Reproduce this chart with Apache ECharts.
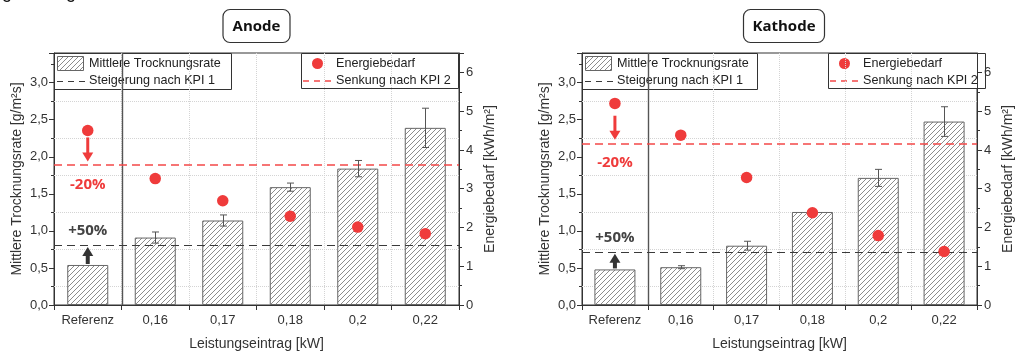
<!DOCTYPE html>
<html lang="de">
<head>
<meta charset="utf-8">
<title>Trocknungsrate und Energiebedarf – Anode / Kathode</title>
<script src="https://cdn.jsdelivr.net/npm/echarts@6/dist/echarts.min.js"></script>
<style>
  html, body { margin: 0; padding: 0; background: #fff; }
  #chart { width: 1016px; height: 356px; }
</style>
</head>
<body>
<div id="chart"></div>
<script>
// Kategorien der x-Achse (Leistungseintrag in kW)
const categories = ['Referenz', '0,16', '0,17', '0,18', '0,2', '0,22'];

// Anode: mittlere Trocknungsrate [g/m²s], Standardabweichung, Energiebedarf [kWh/m²]
const anodeRate = [0.54, 0.91, 1.14, 1.59, 1.84, 2.39];
const anodeRateErr = [0, 0.075, 0.075, 0.055, 0.11, 0.265];
const anodeEnergy = [4.5, 3.26, 2.69, 2.29, 2.01, 1.84];

// Kathode: mittlere Trocknungsrate [g/m²s], Standardabweichung, Energiebedarf [kWh/m²]
const kathodeRate = [0.48, 0.51, 0.80, 1.255, 1.715, 2.475];
const kathodeRateErr = [0, 0.02, 0.06, 0, 0.115, 0.2];
const kathodeEnergy = [5.2, 4.38, 3.29, 2.38, 1.79, 1.38];

// Zielwerte: +50 % Trocknungsrate (KPI 1), -20 % Energiebedarf (KPI 2)
const kpi1Factor = 1.5;
const kpi2Factor = 0.8;
const kpi1Label = '+50%';
const kpi2Label = '-20%';

// Achsenbereiche und Teilstriche
const rateAxis = { min: 0, max: 3.4, interval: 0.5 };
const energyAxis = { min: 0, max: 6.5, interval: 1 };
// Hilfsgitterlinien (gepunktet) auf der Trocknungsraten-Achse
const gridLevels = [0.25, 0.75, 1.25, 1.75, 2.25, 2.75];

const panelTitles = ['Anode', 'Kathode'];
const legendLabels = {
  rate: 'Mittlere Trocknungsrate',
  kpi1: 'Steigerung nach KPI 1',
  energy: 'Energiebedarf',
  kpi2: 'Senkung nach KPI 2'
};
const axisNames = {
  x: 'Leistungseintrag [kW]',
  rate: 'Mittlere Trocknungsrate [g/m²s]',
  energy: 'Energiebedarf [kWh/m²]'
};
// Angeschnittene Überschrift am oberen Bildrand
const headerText = 'Leistungseintrag';

const panels = [
  { rate: anodeRate, err: anodeRateErr, energy: anodeEnergy },
  { rate: kathodeRate, err: kathodeRateErr, energy: kathodeEnergy }
];

// Plotbereiche (Pixel)
const layout = [
  { left: 54, right: 459 },
  { left: 582, right: 986 }
];
const plotTop = 53, plotBottom = 309, W = 1016, H = 356;

const FONT = '"Liberation Sans", Arial, sans-serif';
const BOLD = '"Open Sans", "Liberation Sans", sans-serif';
const INK = '#333';
const RED = '#ef3b3b';
const RED_DASH = '#f44848';
const DARK_DASH = '#3a3a3a';
const LEGEND_FONT = '12.6px ' + FONT;

// Schraffur für die Balken
function hatchCanvas() {
  const s = 5;
  const c = document.createElement('canvas');
  c.width = s; c.height = s;
  const g = c.getContext('2d');
  g.fillStyle = '#fff';
  g.fillRect(0, 0, s, s);
  g.strokeStyle = '#8c8c8c';
  g.lineWidth = 1;
  g.beginPath();
  g.moveTo(0, s); g.lineTo(s, 0);
  g.moveTo(-1, 1); g.lineTo(1, -1);
  g.moveTo(s - 1, s + 1); g.lineTo(s + 1, s - 1);
  g.stroke();
  return c;
}
const hatch = { image: hatchCanvas(), repeat: 'repeat' };

const comma = (v, d) => v.toFixed(d).replace('.', ',');

const grids = [], xAxes = [], yAxes = [], series = [], graphics = [];

// Horizontale gestrichelte Linie über die ganze Plotbreite
function hLineSeries(xi, yi, value, color, width, shift) {
  return {
    type: 'custom', xAxisIndex: xi, yAxisIndex: yi, z: 4, silent: true,
    data: [[0, value]],
    renderItem: (params, api) => {
      const cs = params.coordSys;
      const y = Math.round(api.coord([0, api.value(1)])[1]) + shift;
      return { type: 'line', shape: { x1: cs.x, y1: y, x2: cs.x + cs.width, y2: y },
               style: { stroke: color, lineWidth: width, lineDash: [8, 5] } };
    }
  };
}

panels.forEach((p, i) => {
  const L = layout[i];
  grids.push({
    left: L.left, right: W - L.right, top: plotTop, bottom: H - plotBottom,
    show: true, borderColor: INK, borderWidth: 1, backgroundColor: 'transparent'
  });

  xAxes.push({
    type: 'category', gridIndex: i, data: categories,
    name: axisNames.x, nameLocation: 'middle', nameGap: 32,
    nameTextStyle: { fontFamily: FONT, fontSize: 14, color: INK },
    axisLine: { lineStyle: { color: INK, width: 1 } },
    axisTick: { show: true, length: 5, interval: 0, lineStyle: { color: INK } },
    axisLabel: { fontFamily: FONT, fontSize: 13, color: INK, margin: 9, interval: 0 },
    splitLine: { show: true, interval: 0, lineStyle: { color: '#d4d4d4', type: 'dotted', width: 1 } }
  });

  const yl = 2 * i, yr = 2 * i + 1;
  yAxes.push({
    type: 'value', gridIndex: i, position: 'left',
    min: rateAxis.min, max: rateAxis.max, interval: rateAxis.interval,
    name: axisNames.rate, nameLocation: 'middle', nameGap: 30,
    nameTextStyle: { fontFamily: FONT, fontSize: 14, color: INK },
    axisLine: { show: true, lineStyle: { color: INK } },
    axisTick: { show: true, length: 5, lineStyle: { color: INK } },
    minorTick: { show: true, splitNumber: 2, length: 3, lineStyle: { color: INK } },
    axisLabel: { fontFamily: FONT, fontSize: 13, color: INK, margin: 6,
                 showMaxLabel: false, formatter: v => comma(v, 1) },
    splitLine: { show: false }
  });
  yAxes.push({
    type: 'value', gridIndex: i, position: 'right',
    min: energyAxis.min, max: energyAxis.max, interval: energyAxis.interval,
    name: axisNames.energy, nameLocation: 'middle', nameGap: 24,
    nameTextStyle: { fontFamily: FONT, fontSize: 14, color: INK },
    axisLine: { show: true, lineStyle: { color: INK } },
    axisTick: { show: true, length: 5, lineStyle: { color: INK } },
    minorTick: { show: true, splitNumber: 2, length: 3, lineStyle: { color: INK } },
    axisLabel: { fontFamily: FONT, fontSize: 13, color: INK, margin: 7,
                 showMaxLabel: false, formatter: v => String(v) },
    splitLine: { show: false }
  });

  const kpi1 = p.rate[0] * kpi1Factor;
  const kpi2 = p.energy[0] * kpi2Factor;

  // Gepunktete Hilfslinien hinter den Balken
  series.push({
    type: 'line', xAxisIndex: i, yAxisIndex: yl, data: [], silent: true, z: 1,
    markLine: {
      silent: true, symbol: 'none', z: 1, label: { show: false },
      lineStyle: { color: '#d4d4d4', type: 'dotted', width: 1 },
      data: gridLevels.map(v => ({ yAxis: v }))
    }
  });

  // Trennlinie zwischen Referenz und Versuchspunkten
  series.push({
    type: 'custom', xAxisIndex: i, yAxisIndex: yl, data: [[0, 0]], z: 3, silent: true,
    renderItem: (params, api) => {
      const cs = params.coordSys;
      const x = Math.round((api.coord([0, 0])[0] + api.coord([1, 0])[0]) / 2) + 0.5;
      return { type: 'line', shape: { x1: x, y1: cs.y, x2: x, y2: cs.y + cs.height },
               style: { stroke: '#555', lineWidth: 1.4 } };
    }
  });

  // Balken: mittlere Trocknungsrate
  series.push({
    name: legendLabels.rate, type: 'bar', xAxisIndex: i, yAxisIndex: yl,
    data: p.rate, barWidth: 41, z: 2,
    itemStyle: { color: hatch, borderColor: '#666', borderWidth: 1 }
  });

  // Ziellinien KPI 1 (schwarz) und KPI 2 (rot)
  series.push(hLineSeries(i, yl, kpi1, DARK_DASH, 1, 0.5));
  series.push(hLineSeries(i, yr, kpi2, RED_DASH, 1.5, 0));

  // Fehlerbalken
  series.push({
    type: 'custom', xAxisIndex: i, yAxisIndex: yl, z: 5, silent: true,
    data: p.rate.map((v, k) => [k, v - p.err[k], v + p.err[k]]),
    renderItem: (params, api) => {
      const lo = api.value(1), hi = api.value(2);
      if (hi - lo <= 0) return null;
      const a = api.coord([api.value(0), lo]);
      const b = api.coord([api.value(0), hi]);
      const x = Math.round(a[0]) + 0.5, cap = 3.5;
      const st = { stroke: '#555', lineWidth: 1 };
      return { type: 'group', children: [
        { type: 'line', shape: { x1: x, y1: a[1], x2: x, y2: b[1] }, style: st },
        { type: 'line', shape: { x1: x - cap, y1: a[1], x2: x + cap, y2: a[1] }, style: st },
        { type: 'line', shape: { x1: x - cap, y1: b[1], x2: x + cap, y2: b[1] }, style: st }
      ] };
    }
  });

  // Energiebedarf (Punkte)
  series.push({
    name: legendLabels.energy, type: 'scatter', xAxisIndex: i, yAxisIndex: yr,
    data: p.energy, symbolSize: 11.5, z: 6,
    itemStyle: { color: RED, opacity: 1 }
  });

  // Pfeil und Beschriftung -20 % (Energiebedarf)
  series.push({
    type: 'custom', xAxisIndex: i, yAxisIndex: yr, z: 7, silent: true,
    data: [[0, kpi2]],
    renderItem: (params, api) => {
      const pt = api.coord([0, api.value(1)]);
      const x = pt[0], tip = pt[1] - 4, tail = pt[1] - 28;
      return { type: 'group', children: [
        { type: 'rect', shape: { x: x - 1.5, y: tail, width: 3, height: tip - tail - 8 },
          style: { fill: RED } },
        { type: 'polygon', shape: { points: [[x - 5.5, tip - 9], [x + 5.5, tip - 9], [x, tip]] },
          style: { fill: RED } },
        { type: 'text', style: { text: kpi2Label, x: x, y: pt[1] + 19,
          align: 'center', verticalAlign: 'middle', fill: RED, font: 'bold 15px ' + BOLD } }
      ] };
    }
  });

  // Pfeil und Beschriftung +50 % (Trocknungsrate)
  series.push({
    type: 'custom', xAxisIndex: i, yAxisIndex: yl, z: 7, silent: true,
    data: [[0, p.rate[0], kpi1]],
    renderItem: (params, api) => {
      const base = api.coord([0, api.value(1)]);
      const line = api.coord([0, api.value(2)]);
      const x = base[0], tail = base[1] - 1, tip = line[1] + 2;
      return { type: 'group', children: [
        { type: 'rect', shape: { x: x - 2, y: tip + 8, width: 4, height: tail - tip - 8 },
          style: { fill: '#333' } },
        { type: 'polygon', shape: { points: [[x - 5.5, tip + 9], [x + 5.5, tip + 9], [x, tip]] },
          style: { fill: '#333' } },
        { type: 'text', style: { text: kpi1Label, x: x, y: line[1] - 14,
          align: 'center', verticalAlign: 'middle', fill: '#444', font: 'bold 15px ' + BOLD } }
      ] };
    }
  });

  // Titelrahmen
  const cx = (L.left + L.right) / 2;
  const tw = i === 0 ? 67 : 81;
  graphics.push({
    type: 'group', z: 100, children: [
      { type: 'rect', shape: { x: cx - tw / 2, y: 9.5, width: tw, height: 33, r: 7 },
        style: { fill: '#fff', stroke: INK, lineWidth: 1.2 } },
      { type: 'text', style: { text: panelTitles[i], x: cx, y: 26.5, align: 'center',
        verticalAlign: 'middle', fill: '#111', font: 'bold 15px ' + BOLD } }
    ]
  });

  // Legende links (Balken + KPI 1)
  const lx = L.left, lw = i === 0 ? 177 : 175;
  graphics.push({
    type: 'group', z: 100, children: [
      { type: 'rect', shape: { x: lx + 0.5, y: plotTop + 0.5, width: lw, height: 36 },
        style: { fill: '#fff', stroke: INK, lineWidth: 1 } },
      { type: 'rect', shape: { x: lx + 3.5, y: plotTop + 3.5, width: 26, height: 14 },
        style: { fill: hatch, stroke: '#666', lineWidth: 1 } },
      { type: 'text', style: { text: legendLabels.rate, x: lx + 35, y: plotTop + 11,
        verticalAlign: 'middle', fill: '#222', font: LEGEND_FONT } },
      { type: 'line', shape: { x1: lx + 3, y1: plotTop + 28.5, x2: lx + 32, y2: plotTop + 28.5 },
        style: { stroke: DARK_DASH, lineWidth: 1, lineDash: [6, 5] } },
      { type: 'text', style: { text: legendLabels.kpi1, x: lx + 35, y: plotTop + 28,
        verticalAlign: 'middle', fill: '#222', font: LEGEND_FONT } }
    ]
  });

  // Legende rechts (Energiebedarf + KPI 2)
  const rw = 158, rx = L.right - rw;
  graphics.push({
    type: 'group', z: 100, children: [
      { type: 'rect', shape: { x: rx + 0.5, y: plotTop + 0.5, width: rw - 1, height: 35 },
        style: { fill: '#fff', stroke: INK, lineWidth: 1 } },
      { type: 'circle', shape: { cx: rx + 16.5, cy: plotTop + 10.5, r: 5.5 },
        style: { fill: RED } },
      { type: 'text', style: { text: legendLabels.energy, x: rx + 35, y: plotTop + 11,
        verticalAlign: 'middle', fill: '#222', font: LEGEND_FONT } },
      { type: 'line', shape: { x1: rx + 2, y1: plotTop + 28, x2: rx + 32, y2: plotTop + 28 },
        style: { stroke: RED_DASH, lineWidth: 1.5, lineDash: [6, 5] } },
      { type: 'text', style: { text: legendLabels.kpi2, x: rx + 35, y: plotTop + 28,
        verticalAlign: 'middle', fill: '#222', font: LEGEND_FONT } }
    ]
  });
});

// Nur die Unterlängen der oberen Textzeile liegen im Bild
graphics.push({
  type: 'text', z: 100, style: { text: headerText, x: -56, y: -7,
    verticalAlign: 'middle', fill: '#111', font: '18px ' + FONT }
});

const chart = echarts.init(document.getElementById('chart'), null, { renderer: 'canvas' });
chart.setOption({
  animation: false,
  backgroundColor: '#fff',
  grid: grids,
  xAxis: xAxes,
  yAxis: yAxes,
  series: series,
  graphic: graphics
});
</script>
</body>
</html>
